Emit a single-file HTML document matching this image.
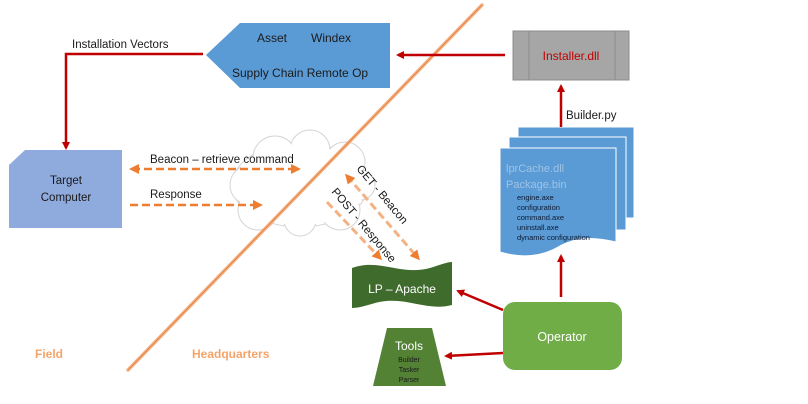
<!DOCTYPE html>
<html><head><meta charset="utf-8"><style>
html,body{margin:0;padding:0;background:#fff;}
svg{display:block;font-family:"Liberation Sans",sans-serif;}
</style></head><body>
<svg width="808" height="404" viewBox="0 0 808 404" xmlns="http://www.w3.org/2000/svg">
<defs>
<marker id="ar" markerWidth="8" markerHeight="8" refX="6" refY="4" orient="auto" markerUnits="userSpaceOnUse"><path d="M0,0 L8,4 L0,8 z" fill="#c00000"/></marker>
<marker id="ao" markerWidth="10" markerHeight="10" refX="7" refY="5" orient="auto" markerUnits="userSpaceOnUse"><path d="M0,0 L10,5 L0,10 z" fill="#ed7d31"/></marker>
<marker id="aos" markerWidth="10" markerHeight="10" refX="3" refY="5" orient="auto" markerUnits="userSpaceOnUse"><path d="M10,0 L0,5 L10,10 z" fill="#ed7d31"/></marker>
</defs>

<!-- cloud -->
<g fill="#fff" stroke="#d4d4d4" stroke-width="1">
<ellipse cx="300" cy="185" rx="68" ry="42"/>
<circle cx="275" cy="158" r="22"/><circle cx="310" cy="150" r="20"/><circle cx="345" cy="162" r="20"/>
<circle cx="250" cy="185" r="20"/><circle cx="258" cy="210" r="20"/><circle cx="300" cy="220" r="16"/><circle cx="340" cy="210" r="20"/><circle cx="360" cy="185" r="15"/>
</g>
<ellipse cx="300" cy="185" rx="66" ry="40" fill="#fff"/>
<circle cx="275" cy="158" r="21" fill="#fff"/><circle cx="310" cy="150" r="19" fill="#fff"/><circle cx="345" cy="162" r="19" fill="#fff"/>
<circle cx="250" cy="185" r="19" fill="#fff"/><circle cx="258" cy="210" r="19" fill="#fff"/><circle cx="300" cy="220" r="15" fill="#fff"/><circle cx="340" cy="210" r="19" fill="#fff"/><circle cx="360" cy="185" r="14" fill="#fff"/>

<!-- diagonal divider -->
<line x1="482" y1="5" x2="128" y2="370" stroke="#f4b183" stroke-width="3.5" stroke-linecap="round"/>
<line x1="482" y1="5" x2="128" y2="370" stroke="#e07b39" stroke-width="0.8"/>

<!-- Asset box -->
<polygon points="206,55 240,23 390,23 390,88 240,88" fill="#5b9bd5"/>
<text x="257" y="42" font-size="12" fill="#1a1a1a">Asset</text>
<text x="311" y="42" font-size="12" fill="#1a1a1a">Windex</text>
<text x="232" y="77" font-size="12" fill="#1a1a1a">Supply Chain  Remote Op</text>

<!-- Installer -->
<rect x="513" y="31" width="116" height="49" fill="#a6a6a6" stroke="#8c8c8c"/>
<line x1="529" y1="31" x2="529" y2="80" stroke="#8c8c8c"/>
<line x1="615" y1="31" x2="615" y2="80" stroke="#8c8c8c"/>
<text x="571" y="60" font-size="12" fill="#c00000" text-anchor="middle">Installer.dll</text>
<line x1="505" y1="55" x2="398" y2="55" stroke="#c00000" stroke-width="2.5" marker-end="url(#ar)"/>

<!-- install vectors -->
<polyline points="203,54 66,54 66,148" fill="none" stroke="#c00000" stroke-width="2.5" marker-end="url(#ar)"/>
<text x="72" y="48" font-size="11.5" fill="#1a1a1a">Installation Vectors</text>

<!-- Target -->
<polygon points="25,150 122,150 122,228 9,228 9,165" fill="#8faadc"/>
<text x="66" y="184" font-size="11.5" fill="#1a1a1a" text-anchor="middle">Target</text>
<text x="66" y="201" font-size="11.5" fill="#1a1a1a" text-anchor="middle">Computer</text>

<!-- beacon arrows -->
<line x1="132" y1="169" x2="298" y2="169" stroke="#ed7d31" stroke-width="2.5" stroke-dasharray="8,4" marker-start="url(#aos)" marker-end="url(#ao)"/>
<text x="150" y="163" font-size="11.5" fill="#1a1a1a">Beacon – retrieve command</text>
<line x1="130" y1="205" x2="260" y2="205" stroke="#ed7d31" stroke-width="2.5" stroke-dasharray="8,4" marker-end="url(#ao)"/>
<text x="150" y="198" font-size="11.5" fill="#1a1a1a">Response</text>

<line x1="347" y1="176" x2="418" y2="258" stroke="#f4b183" stroke-width="3" stroke-dasharray="8,4" marker-start="url(#aos)" marker-end="url(#ao)"/>
<line x1="327" y1="202" x2="380" y2="258" stroke="#f4b183" stroke-width="3" stroke-dasharray="8,4" marker-end="url(#ao)"/>
<text x="0" y="0" font-size="11.5" fill="#1a1a1a" transform="translate(356,169) rotate(50)">GET - Beacon</text>
<text x="0" y="0" font-size="11.5" fill="#1a1a1a" transform="translate(331,192) rotate(50)">POST - Response</text>

<!-- LP Apache -->
<path d="M352,268 C380,258 400,276 430,268 C440,265 447,262 452,262 L452,305 C425,312 405,295 375,303 C365,306 358,308 352,308 Z" fill="#3f6b2c"/>
<text x="402" y="293" font-size="12" fill="#fff" text-anchor="middle">LP – Apache</text>

<!-- Tools -->
<polygon points="387,328 432,328 446,386 373,386" fill="#548235"/>
<text x="409" y="350" font-size="12" fill="#fff" text-anchor="middle">Tools</text>
<text x="409" y="362" font-size="7" fill="#1a1a1a" text-anchor="middle">Builder</text>
<text x="409" y="372" font-size="7" fill="#1a1a1a" text-anchor="middle">Tasker</text>
<text x="409" y="382" font-size="7" fill="#1a1a1a" text-anchor="middle">Parser</text>

<!-- Operator -->
<rect x="503" y="302" width="119" height="68" rx="12" fill="#70ad47"/>
<text x="562" y="341" font-size="12.5" fill="#fff" text-anchor="middle">Operator</text>
<line x1="503" y1="310" x2="458" y2="291" stroke="#c00000" stroke-width="2.5" marker-end="url(#ar)"/>
<line x1="503" y1="353" x2="446" y2="356" stroke="#c00000" stroke-width="2.5" marker-end="url(#ar)"/>
<line x1="561" y1="297" x2="561" y2="256" stroke="#c00000" stroke-width="2.5" marker-end="url(#ar)"/>

<!-- documents -->
<rect x="518" y="127" width="116" height="91" fill="#5b9bd5" stroke="#fff" stroke-width="1"/>
<rect x="509" y="137" width="117" height="93" fill="#5b9bd5" stroke="#fff" stroke-width="1"/>
<path d="M500,148 L616,148 L616,242 C590,236 575,238 560,246 C540,258 520,258 500,252 Z" fill="#5b9bd5" stroke="#fff" stroke-width="1"/>
<text x="506" y="172" font-size="11" fill="#9dc3e6">lprCache.dll</text>
<text x="506" y="188" font-size="11" fill="#9dc3e6">Package.bin</text>
<g font-size="7.5" fill="#0d1a33">
<text x="517" y="200">engine.axe</text>
<text x="517" y="210">configuration</text>
<text x="517" y="220">command.axe</text>
<text x="517" y="230">uninstall.axe</text>
<text x="517" y="240">dynamic configuration</text>
</g>
<line x1="561" y1="127" x2="561" y2="86" stroke="#c00000" stroke-width="2.5" marker-end="url(#ar)"/>
<text x="566" y="119" font-size="11.5" fill="#1a1a1a">Builder.py</text>

<!-- labels -->
<text x="35" y="358" font-size="12" font-weight="bold" fill="#f4a46a">Field</text>
<text x="192" y="358" font-size="12" font-weight="bold" fill="#f4a46a">Headquarters</text>
</svg>
</body></html>
